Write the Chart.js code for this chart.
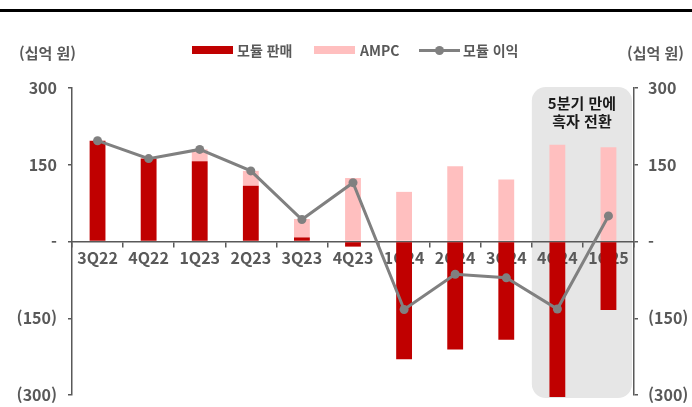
<!DOCTYPE html>
<html lang="ko">
<head>
<meta charset="utf-8">
<script src="https://cdn.jsdelivr.net/npm/chart.js@4/dist/chart.umd.min.js"></script>
<style>
  body { margin: 0; background: #fff; }
  #wrap { position: relative; width: 692px; height: 407px; overflow: hidden;
          font-family: "Noto Sans CJK KR", "Noto Sans", sans-serif; color: #595959; }
  #topRule { position: absolute; left: 0; top: 9px; width: 692px; height: 3px; background: #000; }
  .unit { position: absolute; top: 42px; font-size: 15px; font-weight: bold; }
  .leg { position: absolute; top: 40px; font-size: 14px; font-weight: bold; line-height: 20px; }
  .swatch { position: absolute; top: 46px; width: 41px; height: 8px; }
  .note { position: absolute; left: 532px; width: 100px; top: 94px; text-align: center;
          font-size: 15px; font-weight: bold; color: #1a1a1a; line-height: 18px; }
  canvas { position: absolute; left: 0; top: 0; }
</style>
</head>
<body>
<div id="wrap">
  <canvas id="myChart" width="692" height="407"></canvas>
  <div id="topRule"></div>
  <div class="unit" style="left:19px">(십억 원)</div>
  <div class="unit" style="left:627px">(십억 원)</div>

  <div class="swatch" style="left:192px;background:#c00000"></div>
  <div class="leg" style="left:237px">모듈 판매</div>
  <div class="swatch" style="left:314px;background:#ffbfbf"></div>
  <div class="leg" style="left:360px">AMPC</div>
  <div style="position:absolute;left:419px;top:49px;width:41px;height:3px;background:#808080"></div>
  <div style="position:absolute;left:435px;top:46px;width:9px;height:9px;border-radius:50%;background:#808080"></div>
  <div class="leg" style="left:463px">모듈 이익</div>

  <div class="note">5분기 만에<br>흑자 전환</div>
</div>

<script>
// 분기별 모듈 손익 (십억 원)
const categories = ['3Q22', '4Q22', '1Q23', '2Q23', '3Q23', '4Q23', '1Q24', '2Q24', '3Q24', '4Q24', '1Q25'];
const moduleSales = [197, 162, 157, 109, 8, -10, -230, -211, -192, -321, -134];
const ampc = [0, 0, 23, 29, 36, 124, 97, 147, 121, 189, 184];
const moduleProfit = [197, 162, 180, 138, 43, 115, -133, -64, -71, -132, 50];
const yTicks = [-300, -150, 0, 150, 300];

const grey = '#595959';
const tickFont = { family: '"Noto Sans CJK KR", "Noto Sans", sans-serif', size: 16, weight: 'bold' };

function fmt(v) {
    if (v === 0) return '-';
    return v < 0 ? '(' + (-v) + ')' : String(v);
}

// 마지막 두 분기 뒤 회색 배경 박스
const highlightBox = {
    id: 'highlightBox',
    beforeDraw(chart) {
        const x = chart.scales.x;
        const area = chart.chartArea;
        const half = (x.getPixelForValue(1) - x.getPixelForValue(0)) / 2;
        const left = x.getPixelForValue(9) - half;
        const right = x.getPixelForValue(10) + half - 2;
        const top = area.top - 1;
        const bottom = area.bottom + 3;
        const ctx = chart.ctx;
        ctx.save();
        ctx.fillStyle = '#e6e6e6';
        ctx.beginPath();
        ctx.roundRect(left, top, right - left, bottom - top, 14);
        ctx.fill();
        ctx.restore();
    }
};

function yAxis(position, width, padding) {
    return {
        position: position,
        min: -300,
        max: 300,
        afterBuildTicks(scale) { scale.ticks = yTicks.map(v => ({ value: v })); },
        afterFit(scale) {
            scale.width = width;
            scale.paddingTop = 0;
            scale.paddingBottom = 0;
        },
        grid: { drawOnChartArea: false, tickLength: 4, color: grey, lineWidth: 1.5 },
        border: { color: grey, width: 1.5 },
        ticks: { color: grey, font: tickFont, padding: padding, callback: v => fmt(v) }
    };
}

new Chart(document.getElementById('myChart'), {
    data: {
        labels: categories,
        datasets: [
            {
                type: 'line',
                label: '모듈 이익',
                data: moduleProfit,
                borderColor: '#808080',
                backgroundColor: '#808080',
                borderWidth: 3,
                pointRadius: 4.5,
                pointBackgroundColor: '#808080',
                pointBorderWidth: 0,
                order: 0
            },
            {
                type: 'bar',
                label: '모듈 판매',
                data: moduleSales,
                backgroundColor: '#c00000',
                stack: 's',
                order: 1,
                clip: { left: 0, top: 0, right: 0, bottom: 2 }
            },
            {
                type: 'bar',
                label: 'AMPC',
                data: ampc,
                backgroundColor: '#ffbfbf',
                stack: 's',
                order: 1
            }
        ]
    },
    options: {
        responsive: false,
        animation: false,
        layout: { padding: { top: 88, bottom: 12, left: 0, right: 0 } },
        plugins: { legend: { display: false }, tooltip: { enabled: false } },
        datasets: { bar: { categoryPercentage: 1, barPercentage: 0.31 } },
        scales: {
            x: {
                type: 'category',
                stacked: true,
                position: { y: 0 },
                offset: true,
                z: 1,
                afterFit(scale) {
                    scale.height = 0;
                    scale.paddingLeft = 0;
                    scale.paddingRight = 0;
                },
                grid: { offset: true, drawOnChartArea: false, tickLength: 5, color: grey, lineWidth: 1.5 },
                border: { color: grey, width: 1.5 },
                ticks: { color: grey, font: tickFont, padding: 2, maxRotation: 0, autoSkip: false }
            },
            y: Object.assign(yAxis('left', 72, 11), { stacked: true }),
            y2: yAxis('right', 58, 10)
        }
    },
    plugins: [highlightBox]
});
</script>
</body>
</html>
